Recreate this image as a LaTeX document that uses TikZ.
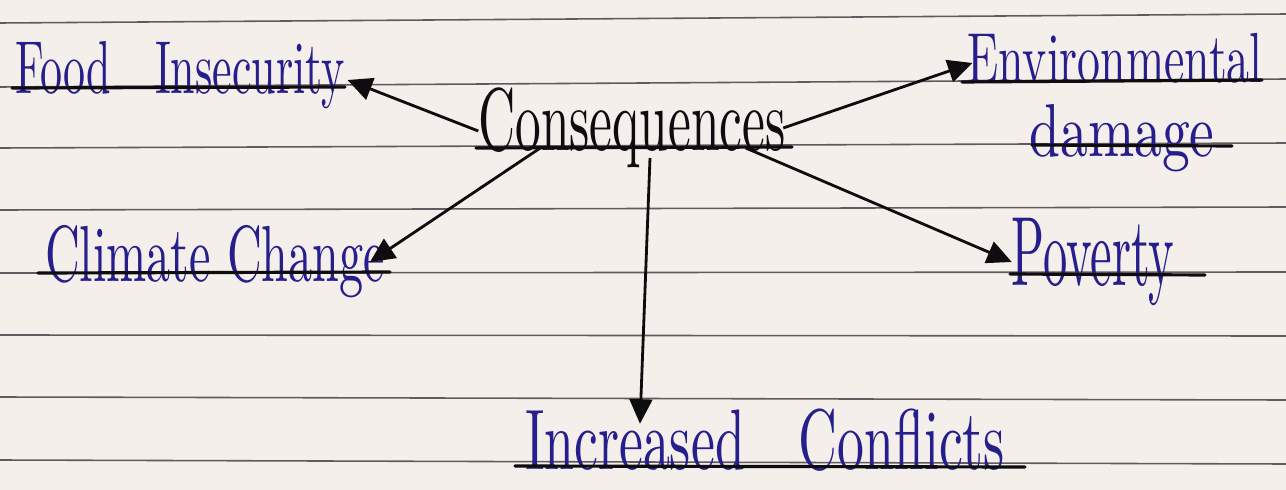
\documentclass[tikz,border=0pt]{standalone}
\usepackage{graphicx}
\usetikzlibrary{arrows.meta,calc}
\definecolor{paper}{RGB}{244,239,234}
\definecolor{rule}{RGB}{95,90,95}
\definecolor{ink}{RGB}{38,30,140}
\definecolor{pen}{RGB}{15,12,15}
\begin{document}
\begin{tikzpicture}[x=0.02cm,y=-0.02cm,
  ruled/.style={draw=rule,line width=0.9pt},
  uline/.style={draw=pen,line width=1.8pt,line cap=round},
  word/.style={inner sep=0pt,outer sep=0pt,text=ink},
  arr/.style={draw=pen,line width=1.6pt,-{Triangle[length=14pt,width=13pt]}}]
\fill[paper] (0,0) rectangle (1286,490);
\useasboundingbox (0,0) rectangle (1286,490);
% ruled lines
\foreach \l/\r in {23/14,87/79,148/143,210/207,273/272,335/336,397/400,460/464}
  \draw[ruled] (0,\l) -- (1286,\r);
% texts
\node[word,text=pen] (cons) at (632,128) {\resizebox*{6.15cm}{1.6cm}{Consequences}};
\node[word] (food) at (180,75) {\resizebox*{6.6cm}{1.35cm}{Food\quad Insecurity}};
\node[word] (env) at (1115,58) {\resizebox*{5.9cm}{1.0cm}{Environmental}};
\node[word] (dam) at (1122,138) {\resizebox*{3.7cm}{1.35cm}{damage}};
\node[word] (clim) at (215,262) {\resizebox*{6.8cm}{1.45cm}{Climate Change}};
\node[word] (pov) at (1093,262) {\resizebox*{3.25cm}{1.75cm}{Poverty}};
\node[word] (inc) at (765,440) {\resizebox*{9.6cm}{1.25cm}{Increased\quad Conflicts}};
% underlines
\draw[uline] (12,88) -- (345,87);
\draw[uline] (476,148) -- (792,147);
\draw[uline] (962,82) -- (1262,80);
\draw[uline] (1032,145) -- (1232,146);
\draw[uline] (38,273) -- (390,272);
\draw[uline] (1010,274) -- (1205,275);
\draw[uline] (515,466) -- (1025,467);
% arrows
\draw[arr] ([yshift=-0.06cm]cons.west) -- ([xshift=0.05cm,yshift=-0.1cm]food.east);
\draw[arr] ([xshift=-0.05cm]cons.east) -- ([xshift=0.1cm,yshift=-0.1cm]env.west);
\draw[arr] ([xshift=1.24cm,yshift=0.4cm]cons.south west) -- ([xshift=-0.3cm]clim.east);
\draw[arr] ([xshift=-0.8cm,yshift=0.4cm]cons.south east) -- (pov.west);
\draw[arr] ([xshift=0.36cm,yshift=0.2cm]cons.south) -- ([xshift=2.3cm,yshift=-0.3cm]inc.north west);
\end{tikzpicture}
\end{document}
